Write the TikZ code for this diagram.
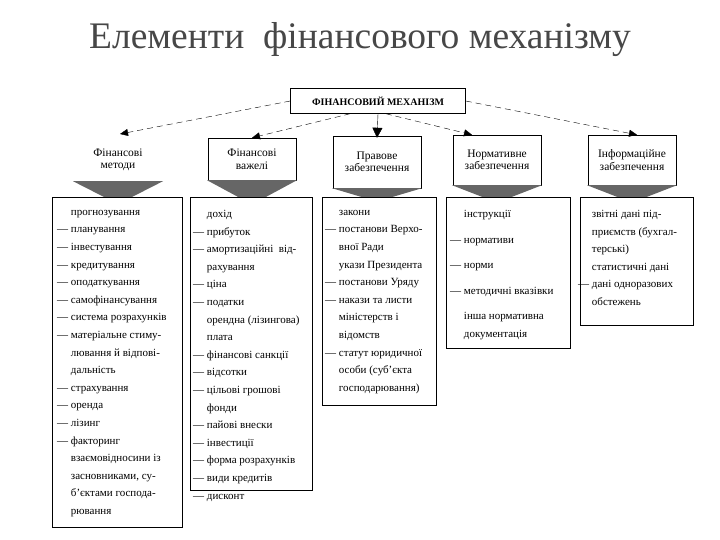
\documentclass[tikz,border=0pt]{standalone}
\usepackage{fontspec}
\setmainfont{Liberation Serif}
\usetikzlibrary{arrows.meta}
\tikzset{
  head/.style={draw,fill=white,align=center,font=\fontsize{11.5}{12.5}\selectfont,inner sep=2pt},
  lst/.style={align=left,anchor=north west,inner sep=0pt,font=\fontsize{11}{17.6}\selectfont},
  lbox/.style={draw,line width=0.8pt},
  funnel/.style={fill=black!60},
  dsh/.style={dashed,dash pattern=on 6pt off 4pt,-{Triangle[width=7pt,length=8pt]}}
}
\newcommand{\ind}{\phantom{— }}
\begin{document}
\begin{tikzpicture}[x=1pt,y=-1pt]
\useasboundingbox (0,0) rectangle (720,540);
\fill[white] (0,0) rectangle (720,540);
\node[font=\fontsize{37.5}{42}\selectfont,text=black!72] (title) at (360,40) {Елементи\ \ фінансового механізму};
\node[draw,fill=white,font=\bfseries\fontsize{10}{12}\selectfont,minimum width=175,minimum height=25] (main) at (378,101) {ФІНАНСОВИЙ МЕХАНІЗМ};
% headers
\node[align=center,font=\fontsize{11.5}{12.5}\selectfont,minimum width=90,minimum height=42] (h1) at (118,160) {Фінансові\\методи};
\node[head,minimum width=88,minimum height=42] (h2) at (252,159) {Фінансові\\важелі};
\node[head,minimum width=88,minimum height=52] (h3) at (377,162) {Правове\\забезпечення};
\node[head,minimum width=88,minimum height=50] (h4) at (497,160) {Нормативне\\забезпечення};
\node[head,minimum width=88,minimum height=50] (h5) at (632,160) {Інформаційне\\забезпечення};
% funnels
\foreach \n/\x in {h1/118,h2/252,h3/377,h4/497,h5/632}{
  \fill[funnel] ([xshift=-45]\n.south) -- ([xshift=45]\n.south) -- (\x+12,198) -- (\x-12,198) -- cycle;
}
% arrows
\coordinate (t1) at (120,134);
\draw[dsh] (main.west) -- (t1);
\draw[dsh] ([xshift=60]main.south west) -- (h2.north);
\draw[-{Triangle[width=10pt,length=10pt]}] (main.south) -- ([yshift=-2]h3.north);
\draw[dsh] ([xshift=-80]main.south east) -- ([xshift=-25]h4.north);
\draw[dsh] (main.east) -- ([xshift=5]h5.north);
% list boxes
\draw[lbox] (52,197) rectangle (182,527);
\draw[lbox] (190,197) rectangle (312,490);
\draw[lbox] (322,197) rectangle (436,405);
\draw[lbox] (446,197) rectangle (570,348);
\draw[lbox] (580,197) rectangle (693,325);
\node[lst] (l1) at (57,210) {\ind прогнозування\\— планування\\— інвестування\\— кредитування\\— оподаткування\\— самофінансування\\— система розрахунків\\— матеріальне стиму-\\\ind лювання й відпові-\\\ind дальність\\— страхування\\— оренда\\— лізинг\\— факторинг\\\ind взаємовідносини із\\\ind засновниками, су-\\\ind б'єктами господа-\\\ind рювання};
\node[lst] (l2) at (193,210) {\ind дохід\\— прибуток\\— амортизаційні \ від-\\\ind рахування\\— ціна\\— податки\\\ind орендна (лізингова)\\\ind плата\\— фінансові санкції\\— відсотки\\— цільові грошові\\\ind фонди\\— пайові внески\\— інвестиції\\— форма розрахунків\\— види кредитів\\— дисконт};
\node[lst] (l3) at (325,210) {\ind закони\\— постанови Верхо-\\\ind вної Ради\\\ind укази Президента\\— постанови Уряду\\— накази та листи\\\ind міністерств і\\\ind відомств\\— статут юридичної\\\ind особи (суб'єкта\\\ind господарювання)};
\node[lst] (l4) at (450,210) {\ind інструкції\\[8pt]— нормативи\\[8pt]— норми\\[8pt]— методичні вказівки\\[8pt]\ind інша нормативна\\\ind документація};
\node[lst] (l5) at (578,210) {\ind звітні дані під-\\\ind приємств (бухгал-\\\ind терські)\\\ind статистичні дані\\— дані одноразових\\\ind обстежень};
\end{tikzpicture}
\end{document}
